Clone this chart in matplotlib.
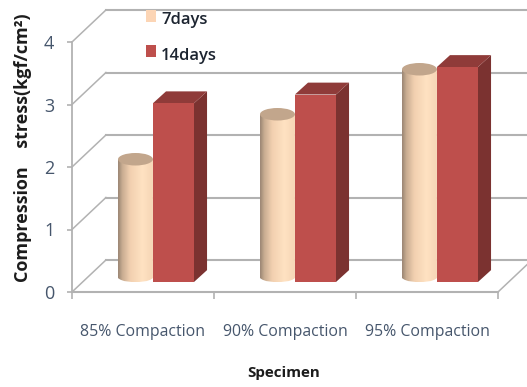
import numpy as np
import matplotlib.pyplot as plt
from matplotlib.colors import LinearSegmentedColormap
from matplotlib.patches import Ellipse, PathPatch, Polygon, Rectangle
from matplotlib.path import Path

categories = ["85% Compaction", "90% Compaction", "95% Compaction"]
days_7 = [1.9, 2.62, 3.34]
days_14 = [2.86, 3.0, 3.44]
y_ticks = [0, 1, 2, 3, 4]

GRID = "#b2b2b2"
TICK_TEXT = "#46566c"
RED_FRONT = "#be4f4c"
RED_SIDE = "#7b3230"
RED_TOP = "#8f3b39"
CAP = "#c2a68c"
PEACH = "#fcd5b5"

# fake 3D: offset of the back wall, and where the bars sit on the floor
WALL_DX, WALL_DY = 0.239, 0.512
FLOOR_DY = 0.16
BASE_DY = 0.224
SPLIT = 0.57
CYL_W, BOX_W = 0.246, 0.289
BOX_DX, BOX_DY = 0.092, 0.19
CAP_H = 0.2

cyl_cmap = LinearSegmentedColormap.from_list(
    "cyl", [(0, "#9c8774"), (0.12, "#c9ad92"), (0.35, "#f2d0b0"), (0.7, "#ffe2c2"), (1, "#f6d6b6")]
)


def draw_cylinder(ax, x0, value):
    x1 = x0 + CYL_W
    xm = x0 + CYL_W / 2
    base = BASE_DY
    low = base - 0.064
    top = value + BASE_DY
    # body outline: straight sides, rounded bottom
    verts = [(x0, top), (x0, base), (x0 + 0.03, low), (xm - 0.03, low), (xm, low),
             (xm + 0.03, low), (x1 - 0.03, low), (x1, base), (x1, top), (x0, top)]
    codes = [Path.MOVETO, Path.LINETO, Path.CURVE4, Path.CURVE4, Path.CURVE4,
             Path.CURVE4, Path.CURVE4, Path.CURVE4, Path.LINETO, Path.CLOSEPOLY]
    outline = PathPatch(Path(verts, codes), fc="none", ec="none", zorder=3)
    ax.add_patch(outline)
    grad = np.linspace(0, 1, 64).reshape(1, -1)
    im = ax.imshow(grad, cmap=cyl_cmap, extent=(x0, x1, low, top),
                   aspect="auto", zorder=3, interpolation="bilinear")
    im.set_clip_path(outline)
    ax.add_patch(Ellipse((xm, top), CYL_W, CAP_H, fc=CAP, ec="none", zorder=3.1))


def draw_box(ax, x0, value):
    x1 = x0 + BOX_W
    y0, y1 = FLOOR_DY, value + FLOOR_DY
    ax.add_patch(Polygon([(x1, y0), (x1 + BOX_DX, y0 + BOX_DY), (x1 + BOX_DX, y1 + BOX_DY), (x1, y1)],
                         fc=RED_SIDE, ec="none", zorder=4))
    ax.add_patch(Polygon([(x0, y1), (x1, y1), (x1 + BOX_DX, y1 + BOX_DY), (x0 + BOX_DX, y1 + BOX_DY)],
                         fc=RED_TOP, ec="none", zorder=4))
    ax.add_patch(Rectangle((x0, y0), BOX_W, value, fc=RED_FRONT, ec="none", zorder=4))


fig = plt.figure(figsize=(5.27, 3.87), dpi=100)
ax = fig.add_axes([72 / 527, 1 - 292 / 387, 426 / 527, 250 / 387])
ax.patch.set_visible(False)

# walls: diagonals running back from the front axes, then lines along the back
for v in y_ticks:
    ax.plot([0, WALL_DX], [v, v + WALL_DY], color=GRID, lw=1.1, clip_on=False, zorder=1)
    ax.plot([WALL_DX, 3 + WALL_DX], [v + WALL_DY, v + WALL_DY], color=GRID, lw=1.5, clip_on=False, zorder=1)
ax.plot([3, 3 + WALL_DX], [0, WALL_DY], color=GRID, lw=1.1, clip_on=False, zorder=1)

for i in range(len(categories)):
    draw_cylinder(ax, i + SPLIT - CYL_W, days_7[i])
    draw_box(ax, i + SPLIT, days_14[i])

ax.set_xlim(0, 3)
ax.set_ylim(0, 4)
ax.set_yticks(y_ticks)
ax.set_xticks([0, 1, 2, 3])
ax.set_xticklabels([])
ax.set_xticks([0.5, 1.5, 2.5], labels=categories, minor=True)
ax.tick_params(axis="x", which="major", length=5, width=1.2, color=GRID)
ax.tick_params(axis="x", which="minor", length=0, pad=23, labelsize=11.4, labelcolor=TICK_TEXT)
ax.tick_params(axis="y", length=3.6, width=1.2, color=GRID, pad=9, labelsize=13, labelcolor=TICK_TEXT)
for label in ax.get_xticklabels(minor=True):
    label.set_family("Open Sans")
    label.set_x(label.get_position()[0])
for label in ax.get_yticklabels():
    label.set_family("Open Sans")
ax.spines["top"].set_visible(False)
ax.spines["right"].set_visible(False)
ax.spines["left"].set_color(GRID)
ax.spines["bottom"].set_color(GRID)
ax.spines["left"].set_linewidth(1.3)
ax.spines["bottom"].set_linewidth(1.5)

fig.text(23 / 527, 1 - 148 / 387, "Compression    stress(kgf/cm²)", rotation=90, ha="center", va="center",
         fontsize=13, fontweight="bold", family="Open Sans", color="#1c1c1c")
fig.text(284 / 527, 1 - 373 / 387, "Specimen", ha="center", va="center",
         fontsize=10.9, fontweight="bold", family="Open Sans", color="#1c1c1c")

# legend, placed by hand over the back wall
for y, color, name in [(10, PEACH, "7days"), (45, RED_FRONT, "14days")]:
    fig.patches.append(Rectangle((146 / 527, 1 - (y + 11.5) / 387), 10 / 527, 11.5 / 387, fc=color, ec="none",
                                 transform=fig.transFigure, zorder=5))
    fig.text(161 / 527, 1 - (y + 10.5) / 387, name, ha="left", va="center", fontsize=12, fontweight="semibold",
             family="Open Sans", color="#1c2430")

fig.savefig("out.png", dpi=100)
